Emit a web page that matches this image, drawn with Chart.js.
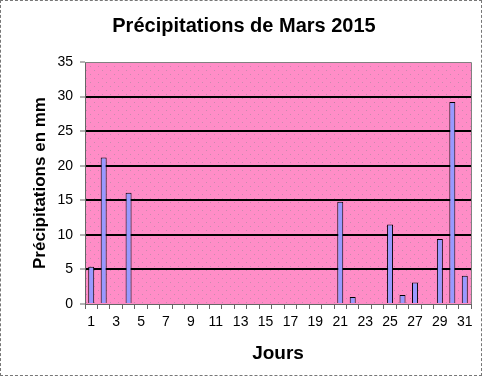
<!DOCTYPE html>
<html><head><meta charset="utf-8">
<script src="https://cdn.jsdelivr.net/npm/chart.js@4/dist/chart.umd.min.js"></script>
<style>
html,body{margin:0;padding:0;background:#fff;}
#wrap{position:absolute;left:0;top:0;width:480px;height:374px;border:1px dashed #777;}
canvas{display:block;}
</style></head>
<body><div id="wrap"><canvas id="c" width="480" height="374"></canvas></div>
<script>
const days = ["1","2","3","4","5","6","7","8","9","10","11","12","13","14","15","16","17","18","19","20","21","22","23","24","25","26","27","28","29","30","31"];
const precipitation = [5.4,21.2,0,16.1,0,0,0,0,0,0,0,0,0,0,0,0,0,0,0,0,14.8,1.0,0,0,11.5,1.3,3.1,0,9.4,29.2,4.1];
const yTicks = [0,5,10,15,20,25,30,35];

const plotBg = {
  id:'plotBg',
  beforeDraw(chart){
    const {ctx, chartArea:a} = chart;
    const pc = document.createElement('canvas'); pc.width=8; pc.height=8;
    const g = pc.getContext('2d');
    g.fillStyle = '#FF8DC7'; g.fillRect(0,0,8,8);
    g.fillStyle = '#C98AAE'; g.fillRect(1,1,1,1); g.fillRect(5,5,1,1);
    ctx.save();
    ctx.fillStyle = ctx.createPattern(pc,'repeat');
    ctx.fillRect(a.left,a.top,a.right-a.left,a.bottom-a.top);
    ctx.restore();
  },
  afterDatasetsDraw(chart){
    const {ctx, chartArea:a} = chart;
    ctx.save();
    ctx.strokeStyle = '#808080'; ctx.lineWidth = 1;
    ctx.beginPath();
    ctx.moveTo(a.left, a.top+0.5); ctx.lineTo(a.right+0.5, a.top+0.5); ctx.lineTo(a.right+0.5, a.bottom);
    ctx.stroke();
    ctx.restore();
  }
};

const F = 'Liberation Sans, Arial, sans-serif';
new Chart(document.getElementById('c'), {
  type:'bar',
  data:{labels:days, datasets:[{data:precipitation, backgroundColor:'#9999FF', borderColor:'#000', borderWidth:1, barPercentage:0.48, categoryPercentage:1}]},
  options:{
    responsive:false, animation:false,
    layout:{padding:{left:16,right:10,top:0,bottom:0}},
    plugins:{
      legend:{display:false}, tooltip:{enabled:false},
      title:{display:true, text:'Précipitations de Mars 2015', color:'#000',
        font:{family:F, size:20, weight:'bold'},
        padding:{top:13, bottom:24}}
    },
    scales:{
      x:{
        grid:{display:true, offset:true, drawOnChartArea:false, tickLength:5, tickColor:'#666', lineWidth:1},
        border:{color:'#666', width:1},
        ticks:{color:'#000', autoSkip:false, maxRotation:0, minRotation:0, padding:5,
          font:{family:F, size:14},
          callback:(v,i)=> i%2===0 ? days[i] : ''},
        title:{display:true, text:'Jours', color:'#000', font:{family:F, size:19, weight:'bold'}, padding:{top:0,bottom:10}},
        afterFit(s){ s.height = 71; }
      },
      y:{
        min:0, max:35,
        afterBuildTicks(s){ s.ticks = yTicks.map(v=>({value:v})); },
        grid:{color:c=> (c.tick && (c.tick.value===0||c.tick.value===35)) ? 'rgba(0,0,0,0)' : '#000', lineWidth:2, tickLength:5, tickColor:'#666', tickWidth:1},
        border:{color:'#666', width:1},
        ticks:{color:'#000', padding:7, font:{family:F, size:14}},
        title:{display:true, text:'Précipitations en mm', color:'#000', font:{family:F, size:17, weight:'bold'}, padding:{top:13,bottom:0}},
        afterFit(s){ s.width = 68; }
      }
    }
  },
  plugins:[plotBg]
});
</script></body></html>
